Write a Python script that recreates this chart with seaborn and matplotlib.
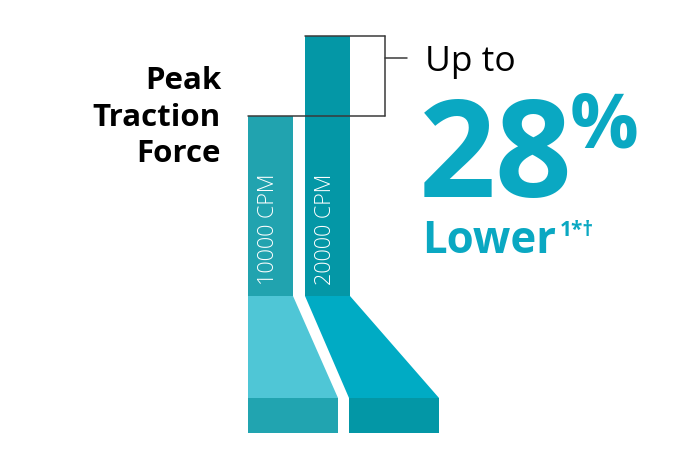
import matplotlib
matplotlib.use("Agg")
import matplotlib.pyplot as plt
from matplotlib.patches import Polygon
import seaborn as sns

# chart data
speeds = ["10000 CPM", "20000 CPM"]
peak_force = [69.2, 100.0]          # relative peak traction force
bar_colors = ["#21A3AF", "#0497A6"]
floor_colors = ["#4FC6D6", "#00ABC4"]
base_colors = ["#21A4B0", "#0397A6"]
teal = "#0AA8C2"

sns.set_theme(style="white")
plt.rcParams['font.family'] = ['Open Sans', 'DejaVu Sans']

fig = plt.figure(figsize=(6.95, 4.51), dpi=100)

# background axis in pixel units for the floor shapes and text
ax = fig.add_axes([0, 0, 1, 1])
ax.set_xlim(0, 695)
ax.set_ylim(451, 0)
ax.axis('off')

# floor (perspective part under the bars)
floors = [
    [(248, 296), (293, 296), (338, 398), (248, 398)],
    [(305, 296), (350, 296), (439, 398), (349, 398)],
]
bases = [(248, 338), (349, 439)]
for pts, col in zip(floors, floor_colors):
    ax.add_patch(Polygon(pts, closed=True, facecolor=col, edgecolor='none'))
for (x0, x1), col in zip(bases, base_colors):
    ax.add_patch(Polygon([(x0, 398), (x1, 398), (x1, 433), (x0, 433)],
                         closed=True, facecolor=col, edgecolor='none'))

# bar axis (categories / force values), overlaid on the full figure
bx = fig.add_axes([0, 0, 1, 1])
bx.patch.set_alpha(0)
sns.barplot(x=speeds, y=peak_force, hue=speeds, palette=bar_colors,
            saturation=1, width=0.785, legend=False, linewidth=0, ax=bx)
bx.set_xlim(-4.7355, 7.4361)
bx.set_ylim(-59.615, 113.846)
bx.axis('off')

# labels inside the bars
for i, lab in enumerate(speeds):
    bx.text(i - 0.03, 4.2, lab, rotation=90, ha='center', va='bottom',
            color='white', fontsize=15.5, fontweight='light')

# bracket comparing the two bar tops
w = 0.785
right = 2.007
tick_y = peak_force[1] - 0.28 * (peak_force[1] - peak_force[0])
lc = "#3a3a3a"
bx.plot([1 - w / 2, right], [peak_force[1]] * 2, color=lc, lw=1.1)
bx.plot([0 - w / 2, right], [peak_force[0]] * 2, color=lc, lw=1.1)
bx.plot([right, right], peak_force, color=lc, lw=1.1)
bx.plot([right, right + 0.39], [tick_y, tick_y], color=lc, lw=1.1)

# left title
for txt, yb in zip(["Peak", "Traction", "Force"], [89, 126, 162]):
    ax.text(221, yb, txt, ha='right', va='baseline', fontsize=22.5,
            fontweight='bold', color='black')

# callout
ax.text(425, 71, "Up to", ha='left', va='baseline', fontsize=25.5, color='black')
ax.text(419, 197, "28", ha='left', va='baseline', fontsize=97,
        fontweight='bold', color=teal)
ax.text(570, 148, "%", ha='left', va='baseline', fontsize=55,
        fontweight='bold', color=teal)
ax.text(422, 253, "Lower", ha='left', va='baseline', fontsize=31.5,
        fontweight='bold', color=teal)
ax.text(560, 236, "1*\u2020", ha='left', va='baseline', fontsize=15,
        fontweight='bold', color=teal)

fig.savefig("out.png", dpi=100)
